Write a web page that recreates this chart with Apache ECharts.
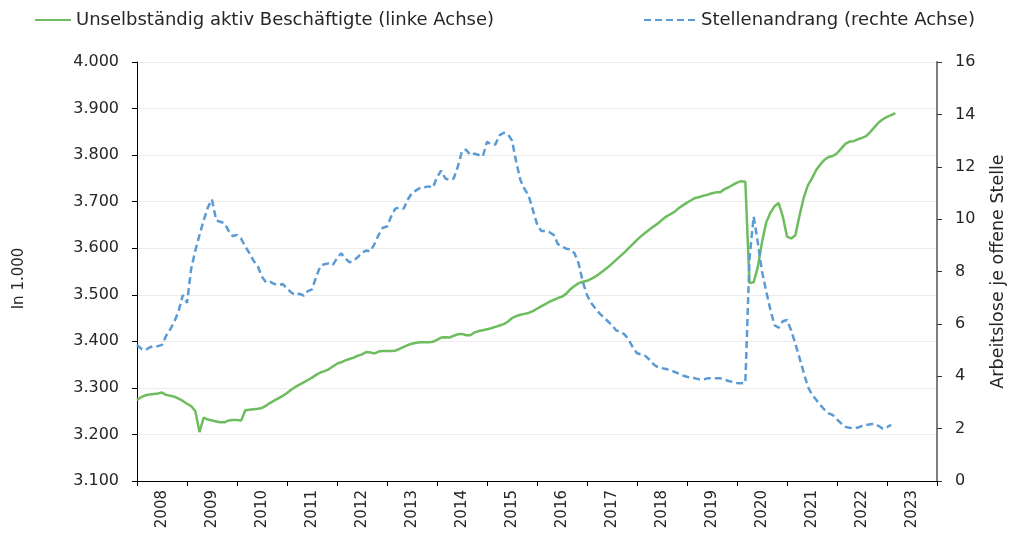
<!DOCTYPE html>
<html>
<head>
<meta charset="utf-8">
<script src="https://cdn.jsdelivr.net/npm/echarts@6/dist/echarts.min.js"></script>
<style>
  html, body { margin: 0; padding: 0; background: #ffffff; }
  #chart { width: 1009px; height: 537px; }
</style>
</head>
<body>
<div id="chart"></div>
<script>
// Jahreslabels (x-Achse), ein Monatswert pro Punkt ab Jänner 2008
const years = ["2008", "2009", "2010", "2011", "2012", "2013", "2014", "2015",
  "2016", "2017", "2018", "2019", "2020", "2021", "2022", "2023"];

// Unselbständig aktiv Beschäftigte, in 1.000 (linke Achse)
const beschaeftigte = [
  3274, 3280, 3284, 3286, 3287, 3288, 3290, 3285, 3283, 3281, 3277, 3272,
  3266, 3261, 3250, 3205, 3236, 3232, 3230, 3228, 3226, 3226, 3230, 3231,
  3231, 3230, 3252, 3253, 3254, 3255, 3257, 3262, 3268, 3273, 3278, 3283,
  3289, 3296, 3302, 3307, 3312, 3317, 3322, 3328, 3333, 3336, 3340, 3346,
  3352, 3355, 3359, 3362, 3365, 3369, 3372, 3377, 3376, 3374, 3378, 3379,
  3379, 3379, 3380, 3384, 3388, 3392, 3395, 3397, 3398, 3398, 3398, 3399,
  3403, 3408, 3409, 3408, 3412, 3415, 3416, 3413, 3413, 3419, 3422, 3424,
  3426, 3428, 3431, 3434, 3437, 3442, 3450, 3454, 3457, 3459, 3461, 3465,
  3470, 3475, 3480, 3485, 3489, 3493, 3496, 3502, 3512, 3519, 3525, 3528,
  3530, 3534, 3539, 3545, 3552, 3559, 3567, 3575, 3583, 3591, 3600, 3609,
  3618, 3626, 3633, 3640, 3647, 3653, 3661, 3668, 3673, 3678, 3686, 3692,
  3698, 3703, 3708, 3710, 3713, 3715, 3718, 3720, 3720, 3727, 3731, 3736,
  3741, 3744, 3743, 3525, 3527, 3560, 3613, 3655, 3676, 3690, 3697, 3668,
  3625, 3621, 3628, 3670, 3708, 3735, 3750, 3768, 3780, 3790, 3796, 3798,
  3804, 3814, 3824, 3829, 3830, 3834, 3837, 3841, 3850, 3860, 3870, 3877,
  3882, 3886, 3890
];

// Stellenandrang: Arbeitslose je offene Stelle (rechte Achse)
const stellenandrang = [
  5.2, 5.05, 5.0, 5.1, 5.15, 5.15, 5.2, 5.55, 5.8, 6.1, 6.5, 7.1,
  6.8, 8.1, 8.8, 9.4, 9.95, 10.45, 10.75, 9.95, 9.9, 9.85, 9.55, 9.35,
  9.4, 9.25, 8.95, 8.7, 8.4, 8.2, 7.8, 7.58, 7.6, 7.52, 7.48, 7.52,
  7.35, 7.2, 7.1, 7.15, 7.08, 7.25, 7.32, 7.8, 8.2, 8.28, 8.31, 8.25,
  8.5, 8.7, 8.5, 8.35, 8.42, 8.55, 8.72, 8.8, 8.77, 9.05, 9.4, 9.67,
  9.72, 10.1, 10.4, 10.45, 10.4, 10.75, 11.0, 11.1, 11.2, 11.22, 11.25, 11.2,
  11.6, 11.85, 11.55, 11.5, 11.55, 12.0, 12.6, 12.65, 12.45, 12.5, 12.45, 12.4,
  12.95, 12.85, 12.85, 13.2, 13.3, 13.25, 13.0, 12.2, 11.5, 11.15, 10.9, 10.35,
  9.82, 9.55, 9.55, 9.5, 9.4, 9.05, 8.95, 8.87, 8.85, 8.7, 8.3, 7.6,
  7.1, 6.8, 6.6, 6.4, 6.25, 6.1, 5.95, 5.75, 5.7, 5.6, 5.4, 5.1,
  4.88, 4.83, 4.78, 4.63, 4.45, 4.35, 4.31, 4.28, 4.22, 4.17, 4.1, 4.03,
  3.98, 3.95, 3.92, 3.88, 3.88, 3.92, 3.92, 3.92, 3.92, 3.87, 3.82, 3.78,
  3.74, 3.73, 3.75, 8.5, 10.1, 9.1, 8.0, 7.25, 6.55, 5.95, 5.85, 6.1,
  6.15, 5.75, 5.25, 4.7, 4.15, 3.6, 3.3, 3.1, 2.9, 2.72, 2.58, 2.52,
  2.35, 2.2, 2.07, 2.03, 2.01, 2.04, 2.1, 2.14, 2.17, 2.18, 2.1, 2.0,
  2.05, 2.15
];

const font = "DejaVu Sans";
const textColor = "#262626";

const chart = echarts.init(document.getElementById("chart"));

chart.setOption({
  backgroundColor: "#ffffff",
  animation: false,
  textStyle: { fontFamily: font, color: textColor },
  legend: [
    {
      left: 29,
      top: 6,
      itemWidth: 36,
      itemHeight: 14,
      itemStyle: { opacity: 0 },
      textStyle: { fontFamily: font, fontSize: 18, color: textColor },
      data: ["Unselbständig aktiv Beschäftigte (linke Achse)"]
    },
    {
      left: 638,
      top: 6,
      itemWidth: 52,
      itemHeight: 14,
      itemStyle: { opacity: 0 },
      textStyle: { fontFamily: font, fontSize: 18, color: textColor },
      data: ["Stellenandrang (rechte Achse)"]
    }
  ],
  grid: {
    left: 137,
    right: 72,
    top: 62,
    bottom: 56,
    outerBoundsMode: "none"
  },
  xAxis: [
    {
      type: "value",
      min: 0,
      max: 192,
      interval: 12,
      axisLine: { lineStyle: { color: "#000000", width: 1 } },
      axisTick: { show: true, length: 5, lineStyle: { color: "#000000" } },
      axisLabel: { show: false },
      splitLine: { show: false }
    },
    {
      type: "category",
      data: years,
      boundaryGap: true,
      position: "bottom",
      axisLine: { show: false },
      axisTick: { show: false },
      axisLabel: {
        rotate: 90,
        margin: 9,
        fontFamily: font,
        fontSize: 15,
        color: textColor
      }
    }
  ],
  yAxis: [
    {
      type: "value",
      min: 3100,
      max: 4000,
      interval: 100,
      name: "In 1.000",
      nameLocation: "middle",
      nameRotate: 90,
      nameGap: 110,
      nameTextStyle: { fontFamily: font, fontSize: 15, color: textColor, padding: [0, 14, 0, 0] },
      axisLine: { show: true, lineStyle: { color: "#000000", width: 1 } },
      axisTick: { show: true, length: 5, lineStyle: { color: "#000000" } },
      axisLabel: {
        margin: 18,
        fontFamily: font,
        fontSize: 16,
        color: textColor,
        formatter: v => String(v).replace(/(\d)(\d{3})$/, "$1.$2")
      },
      splitLine: { show: true, lineStyle: { color: "#ececec", width: 1 } }
    },
    {
      type: "value",
      min: 0,
      max: 16,
      interval: 2,
      position: "right",
      name: "Arbeitslose je offene Stelle",
      nameLocation: "middle",
      nameRotate: 90,
      nameGap: 52,
      nameTextStyle: { fontFamily: font, fontSize: 17.5, color: textColor },
      axisLine: { show: true, lineStyle: { color: "#7f7f7f", width: 2 } },
      axisTick: { show: true, length: 5, lineStyle: { color: "#333333" } },
      axisLabel: {
        margin: 18,
        fontFamily: font,
        fontSize: 16,
        color: textColor
      },
      splitLine: { show: false }
    }
  ],
  series: [
    {
      name: "Unselbständig aktiv Beschäftigte (linke Achse)",
      type: "line",
      xAxisIndex: 0,
      yAxisIndex: 0,
      symbol: "none",
      color: "#6dbd5f",
      lineStyle: { color: "#6dbd5f", width: 2.5 },
      data: beschaeftigte.map((v, i) => [i, v])
    },
    {
      name: "Stellenandrang (rechte Achse)",
      type: "line",
      xAxisIndex: 0,
      yAxisIndex: 1,
      symbol: "none",
      color: "#5b9bd5",
      lineStyle: { color: "#5b9bd5", width: 2.5, type: [7, 4] },
      data: stellenandrang.map((v, i) => [i, v])
    }
  ]
});
</script>
</body>
</html>
